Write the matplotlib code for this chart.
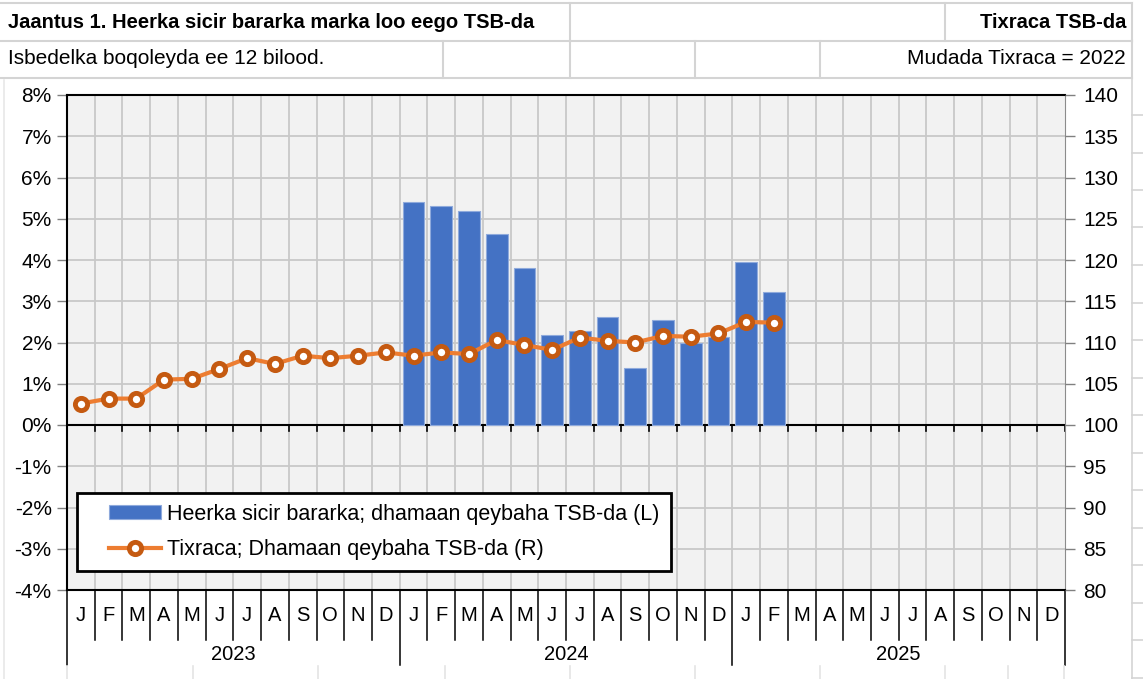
import matplotlib.pyplot as plt
import numpy as np
from matplotlib.lines import Line2D
from matplotlib.legend_handler import HandlerPatch, HandlerLine2D, update_from_first_child
from matplotlib.container import BarContainer

plt.rcParams['font.family'] = ['Liberation Sans', 'DejaVu Sans']

# data
months = ['J', 'F', 'M', 'A', 'M', 'J', 'J', 'A', 'S', 'O', 'N', 'D']
years = ['2023', '2024', '2025']
bar_start = 12  # bars start January 2024
inflation = [5.40, 5.32, 5.19, 4.62, 3.80, 2.19, 2.28, 2.63, 1.37, 2.54, 2.00, 2.13,
             3.95, 3.23]
index_vals = [102.6, 103.2, 103.2, 105.5, 105.6, 106.8, 108.1, 107.4, 108.4, 108.1, 108.4, 108.8,
              108.4, 108.8, 108.6, 110.3, 109.7, 109.1, 110.6, 110.2, 110.0, 110.8, 110.7, 111.1,
              112.5, 112.4]
left_ticks = [-4, -3, -2, -1, 0, 1, 2, 3, 4, 5, 6, 7, 8]
right_ticks = [80, 85, 90, 95, 100, 105, 110, 115, 120, 125, 130, 135, 140]

title = 'Jaantus 1. Heerka sicir bararka marka loo eego TSB-da'
title_right = 'Tixraca TSB-da'
subtitle = 'Isbedelka boqoleyda ee 12 bilood.'
subtitle_right = 'Mudada Tixraca = 2022'
bar_label = 'Heerka sicir bararka; dhamaan qeybaha TSB-da (L)'
line_label = 'Tixraca; Dhamaan qeybaha TSB-da (R)'

W, H = 1143, 679
fig = plt.figure(figsize=(W / 100, H / 100), dpi=100)
fig.patch.set_facecolor('white')

def fx(px):
    return px / W

def fy(py):
    return 1 - py / H

# spreadsheet cell borders around the chart
grid_c = '#D4D4D4'
for y in [3, 41, 78]:
    fig.add_artist(Line2D([fx(0), fx(1132)], [fy(y), fy(y)], color=grid_c, lw=1.5))
for x in [570, 945, 1132]:
    fig.add_artist(Line2D([fx(x), fx(x)], [fy(3), fy(41)], color=grid_c, lw=1.5))
for x in [443, 570, 695, 820, 1132]:
    fig.add_artist(Line2D([fx(x), fx(x)], [fy(41), fy(78)], color=grid_c, lw=1.5))
fig.add_artist(Line2D([fx(1132), fx(1132)], [fy(78), fy(679)], color=grid_c, lw=1.2))
for y in np.arange(115, 679, 37.5):
    fig.add_artist(Line2D([fx(1132), fx(1143)], [fy(y), fy(y)], color=grid_c, lw=1.2))
for x in [67, 193, 318, 445, 570, 695, 820, 945, 1008, 1064]:
    fig.add_artist(Line2D([fx(x), fx(x)], [fy(666), fy(679)], color='#E4E4E4', lw=1.2))
fig.add_artist(Line2D([fx(4), fx(4)], [fy(80), fy(679)], color='#E8E8E8', lw=1.2))

fig.text(fx(8), fy(23), title, fontsize=14.5, fontweight='bold', va='center', ha='left')
fig.text(fx(1126), fy(23), title_right, fontsize=14.5, fontweight='bold', va='center', ha='right')
fig.text(fx(8), fy(59), subtitle, fontsize=15, va='center', ha='left')
fig.text(fx(1126), fy(59), subtitle_right, fontsize=15, va='center', ha='right')

ax = fig.add_axes([fx(67), fy(590), fx(1065) - fx(67), (590 - 95) / H])
ax.set_facecolor('#F2F2F2')
n = len(months) * len(years)
ax.set_xlim(-0.5, n - 0.5)
ax.set_ylim(left_ticks[0], left_ticks[-1])

# grid
for b in np.arange(0.5, n - 0.5, 1):
    ax.axvline(b, color='#C8C8C8', lw=1.3, zorder=0)
for t in left_ticks[1:-1]:
    ax.axhline(t, color='#C8C8C8', lw=1.3, zorder=0)
ax.axhline(0, color='black', lw=1.5, zorder=1)
for b in np.arange(-0.5, n, 1):
    ax.plot([b, b], [0, -0.15], color='black', lw=1.2, zorder=1)

xb = np.arange(bar_start, bar_start + len(inflation))
ax.bar(xb, inflation, width=0.78, color='#4472C4', edgecolor='#8FAADC', linewidth=0.8, zorder=2,
       label=bar_label)

ax.set_yticks(left_ticks)
ax.set_yticklabels([f'{t}%' for t in left_ticks], fontsize=15)
ax.tick_params(axis='y', direction='out', length=7, width=1, color='#808080', pad=4)
ax.set_xticks([])
for s in ['left', 'top', 'bottom']:
    ax.spines[s].set_color('black')
    ax.spines[s].set_linewidth(1.5)
ax.spines['right'].set_color('#8C8C8C')

ax2 = ax.twinx()
ax2.set_ylim(right_ticks[0], right_ticks[-1])
ax2.set_yticks(right_ticks)
ax2.set_yticklabels([str(t) for t in right_ticks], fontsize=15)
ax2.tick_params(axis='y', direction='out', length=7, width=1, color='#808080', pad=6)
for s in ax2.spines.values():
    s.set_visible(False)
xl = np.arange(len(index_vals))
ax2.plot(xl, index_vals, color='#ED7D31', lw=3, marker='o', markersize=8.8,
         markerfacecolor='white', markeredgecolor='#C55A11', markeredgewidth=3.5, zorder=3,
         label=line_label)

# category axis below
tr = ax.get_xaxis_transform()
for i in range(n):
    ax.text(i, -0.052, months[i % 12], transform=tr, ha='center', va='center', fontsize=14.5)
for b in np.arange(-0.5, n, 1):
    is_year = (b + 0.5) % 12 == 0
    ax.plot([b, b], [0, -0.152 if is_year else -0.101], transform=tr, color='black', lw=1.1,
            clip_on=False)
for k, yr in enumerate(years):
    ax.text(k * 12 + 5.5, -0.131, yr, transform=tr, ha='center', va='center', fontsize=14.5)

h1, l1 = ax.get_legend_handles_labels()
h2, l2 = ax2.get_legend_handles_labels()
leg = ax2.legend(h1 + h2, l1 + l2, loc='upper left', bbox_to_anchor=(0.01, 0.196),
                 borderaxespad=0, fontsize=15.5, frameon=True, fancybox=False, framealpha=1,
                 handlelength=3.4, handleheight=0.6, borderpad=0.5, labelspacing=0.65,
                 handletextpad=0.3,
                 handler_map={BarContainer: HandlerPatch(xpad=1.0, update_func=update_from_first_child),
                              Line2D: HandlerLine2D(xpad=1.0)})
leg.get_frame().set_edgecolor('black')
leg.get_frame().set_linewidth(2)

fig.savefig('out.png', dpi=100)
